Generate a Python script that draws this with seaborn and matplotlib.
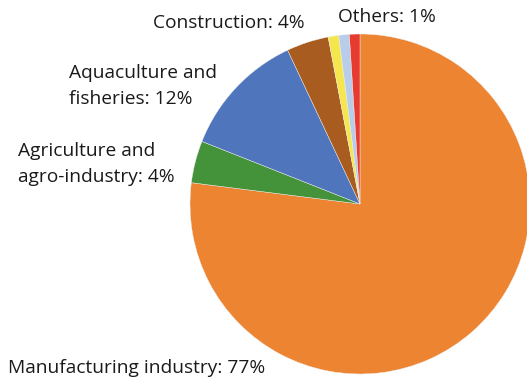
import matplotlib
matplotlib.use("Agg")
import matplotlib.pyplot as plt
import seaborn as sns

# Share of establishments by sector
sectors = ["Manufacturing industry", "Agriculture and agro-industry",
           "Aquaculture and fisheries", "Construction", "Trade",
           "Services", "Others"]
shares = [77, 4, 12, 4, 1, 1, 1]
label_texts = ["Manufacturing industry: 77%", "Agriculture and\nagro-industry: 4%",
               "Aquaculture and\nfisheries: 12%", "Construction: 4%", "", "",
               "Others: 1%"]
colors = ["#ED8432", "#44933A", "#4F76BC", "#A85C20", "#F4E64C",
          "#B8CDEA", "#E63B2E"]

sns.set_theme(style="white")
plt.rcParams["font.family"] = ["Open Sans", "DejaVu Sans"]

W, H = 527, 380
fig = plt.figure(figsize=(W / 100, H / 100), dpi=100)
ax = fig.add_axes([0, 0, 1, 1])

ax.pie(shares, colors=colors, startangle=90, counterclock=False,
       center=(360, H - 204), radius=170, frame=True,
       wedgeprops=dict(edgecolor="#f0f0f0", linewidth=0.3))
ax.set_xlim(0, W)
ax.set_ylim(0, H)
ax.set_aspect("equal")
ax.axis("off")

# label anchors (left edge, vertical centre)
positions = {0: (8, 368), 1: (18, 164), 2: (69, 86), 3: (153, 23), 6: (338, 17)}
for i, (x, y) in positions.items():
    ax.text(x, H - y, label_texts[i], ha="left", va="center",
            fontsize=13.8, color="#1a1a1a", linespacing=1.55)

fig.savefig("out.png", dpi=100)
